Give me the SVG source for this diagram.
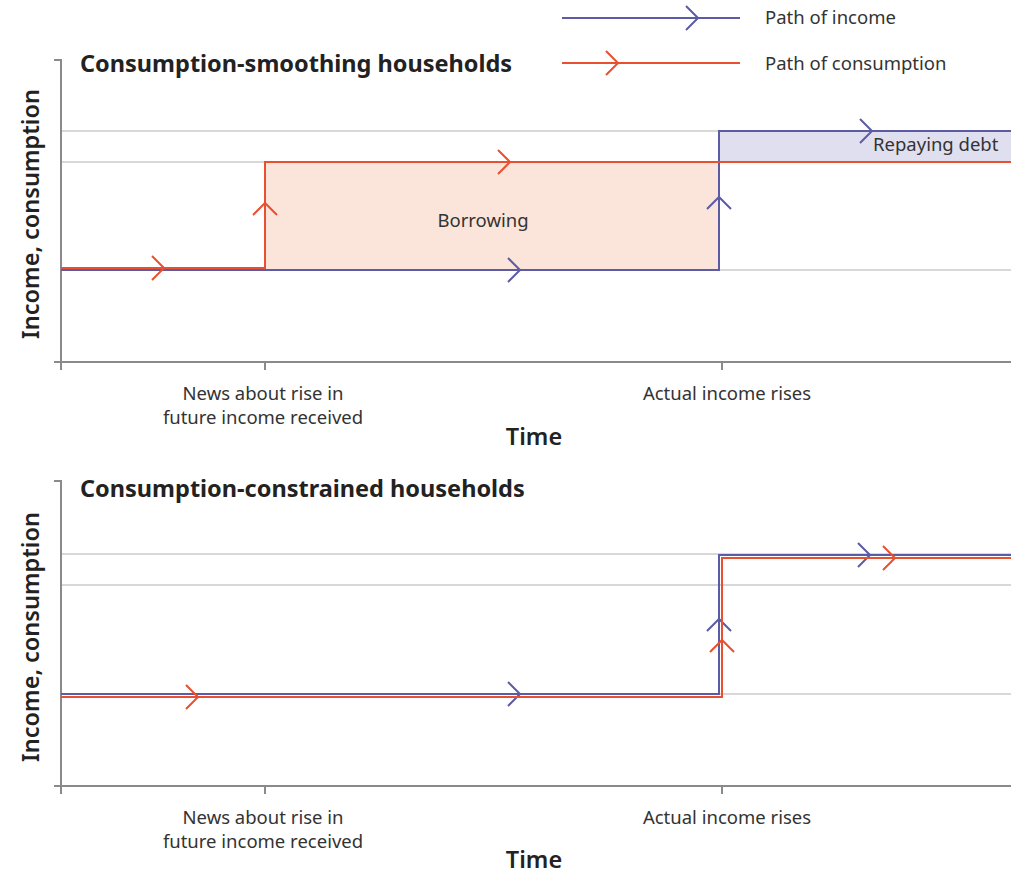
<svg xmlns="http://www.w3.org/2000/svg" width="1011" height="873" viewBox="0 0 1011 873">
<style>
.ax{stroke:#8a8a8a;stroke-width:2;fill:none}
.grid{stroke:#cccccc;stroke-width:1.6;fill:none}
.inc{stroke:#5b5ba6;stroke-width:2;fill:none}
.con{stroke:#e8502f;stroke-width:2;fill:none}
.title{font-family:"Noto Sans","Open Sans",sans-serif;font-weight:bold;font-size:23.5px;fill:#222}
.lab{font-family:"Noto Sans","Open Sans",sans-serif;font-size:18.5px;fill:#333}
.yl{font-family:"Noto Sans","Open Sans",sans-serif;font-weight:600;font-size:23.5px;fill:#222}
</style>
<rect width="1011" height="873" fill="#fff"/>

<g id="legend">
<path class="inc" d="M562 18H740M686 6L698 18L686 30"/>
<text class="lab" x="765" y="24">Path of income</text>
<path class="con" d="M562 63H740M606 51L618 63L606 75"/>
<text class="lab" x="765" y="70">Path of consumption</text>
</g>

<g id="chart-top">
<rect x="265" y="162" width="454" height="107" fill="#fbe4da"/>
<rect x="719" y="131" width="292" height="31" fill="#dfdff0"/>
<path class="grid" d="M61 131H1011M61 162H1011M61 270H1011"/>
<path class="ax" d="M54 60H61V362M54 362H1011M61 362V370M265 362V370M722 362V370"/>
<text class="title" x="80" y="72">Consumption-smoothing households</text>
<text class="yl" transform="translate(39,214) rotate(-90)" text-anchor="middle">Income, consumption</text>
<text class="lab" x="483" y="227" text-anchor="middle">Borrowing</text>
<text class="lab" x="873" y="151">Repaying debt</text>
<text class="lab" x="263" y="400" text-anchor="middle">News about rise in</text>
<text class="lab" x="263" y="424" text-anchor="middle">future income received</text>
<text class="lab" x="727" y="400" text-anchor="middle">Actual income rises</text>
<text class="yl" x="534" y="445" text-anchor="middle">Time</text>
</g>

<g id="chart-bottom">
<path class="grid" d="M61 554H1011M61 585H1011M61 694H1011"/>
<path class="ax" d="M54 481H61V786M54 786H1011M61 786V794M265 786V794M722 786V794"/>
<text class="title" x="80" y="497">Consumption-constrained households</text>
<text class="yl" transform="translate(39,637) rotate(-90)" text-anchor="middle">Income, consumption</text>
<text class="lab" x="263" y="824" text-anchor="middle">News about rise in</text>
<text class="lab" x="263" y="848" text-anchor="middle">future income received</text>
<text class="lab" x="727" y="824" text-anchor="middle">Actual income rises</text>
<text class="yl" x="534" y="868" text-anchor="middle">Time</text>
</g>

<g id="connectors">
<path class="inc" d="M61 270H719V131H1011"/>
<path class="inc" d="M508 258L520 270L508 282M707 209L719 197L731 209M860 119L872 131L860 143"/>
<path class="con" d="M61 268H265V162H1011"/>
<path class="con" d="M152 256L164 268L152 280M253 215L265 203L277 215M498 150L510 162L498 174"/>
<path class="inc" d="M61 694H719V555H1011"/>
<path class="inc" d="M508 682L520 694L508 706M707 631L719 619L731 631M858 543L870 555L858 567"/>
<path class="con" d="M61 697H722V558H1011"/>
<path class="con" d="M186 685L198 697L186 709M710 652L722 640L734 652M883 546L895 558L883 570"/>
</g>
</svg>
